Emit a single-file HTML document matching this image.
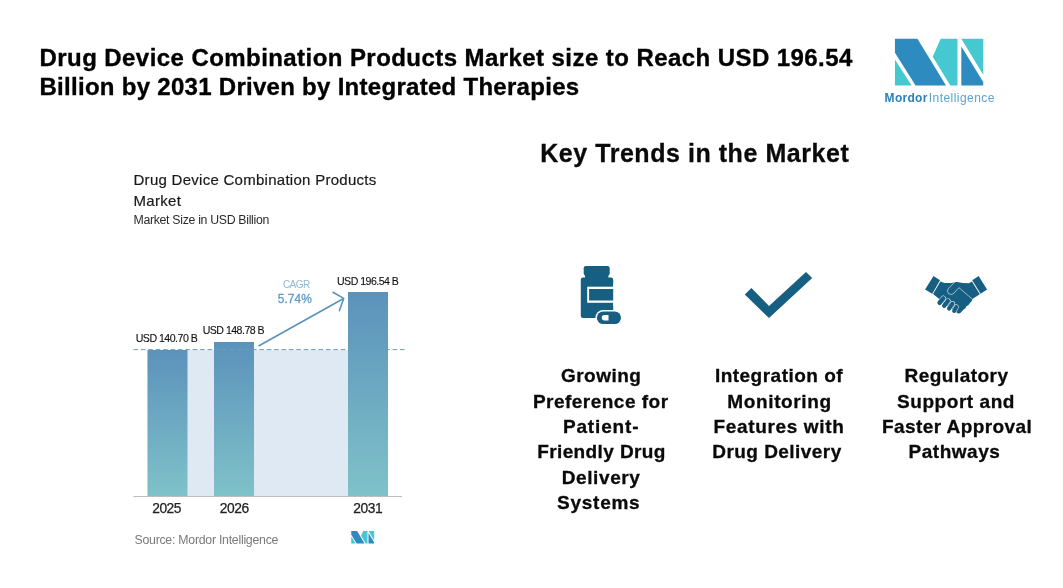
<!DOCTYPE html>
<html lang="en">
<head>
<meta charset="utf-8">
<title>Drug Device Combination Products Market</title>
<style>
html,body{margin:0;padding:0;background:#fff;}
body{width:1063px;height:588px;position:relative;overflow:hidden;font-family:"Liberation Sans",sans-serif;color:#000;}
.t{position:absolute;white-space:nowrap;line-height:1;margin:0;}
.h1{left:40px;font-size:24px;font-weight:bold;color:#000;letter-spacing:-0.2px;}
.key{left:541px;top:140px;font-size:26px;font-weight:bold;}
.ct{left:134px;font-size:15px;color:#222;}
.cs{left:134px;top:213px;font-size:12px;color:#333;}
.lab{font-size:10.5px;color:#111;}
.yr{font-size:13.5px;color:#222;}
.src{left:135px;top:533px;font-size:12px;color:#777;}
.col{position:absolute;top:362px;width:180px;text-align:center;font-size:19px;font-weight:bold;line-height:25.6px;color:#111;}
svg{position:absolute;left:0;top:0;}
</style>
</head>
<body>
<svg width="1063" height="588" viewBox="0 0 1063 588">
  <defs>
    <linearGradient id="bg" x1="0" y1="0" x2="0" y2="1">
      <stop offset="0" stop-color="#5b92bb"/>
      <stop offset="1" stop-color="#7fc2c9"/>
    </linearGradient>
  </defs>
  <!-- Mordor logo big -->
  <g transform="translate(870,25) scale(0.153)">
    <polygon points="163,90 310,90 497,395 298,395 163,182" fill="#2e8bc0"/>
    <polygon points="163,225 163,395 272,395" fill="#45c8cf"/>
    <polygon points="462,90 572,90 572,395 525,395 410,207" fill="#45c8cf"/>
    <polygon points="597,90 740,90 740,325" fill="#45c8cf"/>
    <polygon points="597,140 740,372 740,395 597,395" fill="#2e8bc0"/>
  </g>
  <!-- small logo -->
  <g transform="translate(344.8,527.2) scale(0.0397,0.041)">
    <polygon points="163,90 310,90 497,395 298,395 163,182" fill="#2e8bc0"/>
    <polygon points="163,225 163,395 272,395" fill="#45c8cf"/>
    <polygon points="462,90 572,90 572,395 525,395 410,207" fill="#45c8cf"/>
    <polygon points="597,90 740,90 740,325" fill="#45c8cf"/>
    <polygon points="597,140 740,372 740,395 597,395" fill="#2e8bc0"/>
  </g>
  <!-- chart -->
  <rect x="147.5" y="350" width="240.5" height="146.5" fill="#dfe9f3"/>
  <rect x="147.5" y="350" width="40" height="146.5" fill="url(#bg)"/>
  <rect x="214" y="342" width="40" height="154.5" fill="url(#bg)"/>
  <rect x="348" y="292" width="40" height="204.5" fill="url(#bg)"/>
  <line x1="133.5" y1="349.6" x2="404.5" y2="349.6" stroke="#6c9dbe" stroke-width="1" stroke-dasharray="4.6 2.8"/>
  <line x1="133.5" y1="496.5" x2="402" y2="496.5" stroke="#bdbdbd" stroke-width="1"/>
  <g fill="none" stroke="#5b92b8" stroke-width="1.6" stroke-linecap="round" stroke-linejoin="round">
    <line x1="259" y1="345.7" x2="343.2" y2="298.8"/>
    <polyline points="333,292.3 343.7,298.4 339.4,310.6"/>
  </g>
  <!-- icons -->
  <g fill="#175f82">
    <!-- bottle -->
    <rect x="583.7" y="266.1" width="26" height="9.5" rx="2.2"/>
    <path d="M583 277.5 h28 a2.2 2.2 0 0 1 2.200 2.200 v36 a2.200 2.200 0 0 1 -2.200 2.200 h-28 a2.200 2.200 0 0 1 -2.200 -2.200 v-36 a2.200 2.200 0 0 1 2.200 -2.200z"/>
    <rect x="585" y="275" width="23.400" height="4"/>
  </g>
  <rect x="587.2" y="286.700" width="27" height="16.100" fill="#fff"/>
  <rect x="589.1" y="289" width="25" height="11.500" fill="#175f82"/>
  <rect x="613.2" y="284" width="4" height="22" fill="#fff"/>
  <rect x="595.4" y="309.900" width="27.100" height="15.600" rx="7.800" fill="#fff"/>
  <rect x="596.9" y="311.400" width="24.100" height="12.600" rx="6.300" fill="#175f82"/>
  <path d="M604.5 315 h4 v5.400 h-4 a2.700 2.700 0 0 1 0 -5.400z" fill="#fff"/>
  <!-- check -->
  <polygon points="744.8,294.400 751.400,288 769,305.900 806,271.900 812.200,278 769,318.100" fill="#175f82"/>
  <!-- handshake -->
  <g transform="translate(920,270) scale(0.08163)">
    <g fill="#175f82">
      <polygon points="165,72 245,125 150,292 62,240"/>
      <polygon points="718,72 822,240 742,292 640,125"/>
      <path d="M250,140 L300,160 L385,160 L425,150 Q450,144 475,149 L520,160 L600,162 L636,142 L733,297 L642,356 Q640,392 612,404 Q600,432 566,446 Q560,474 530,488 L498,524 Q478,540 458,526 L300,420 L232,352 L160,294 Z"/>
    </g>
    <g fill="none" stroke-linecap="round">
      <line x1="418" y1="502" x2="446" y2="452" stroke="#fff" stroke-width="59"/>
      <line x1="418" y1="502" x2="446" y2="452" stroke="#175f82" stroke-width="49"/>
      <line x1="356" y1="472" x2="398" y2="412" stroke="#fff" stroke-width="61"/>
      <line x1="356" y1="472" x2="398" y2="412" stroke="#175f82" stroke-width="51"/>
      <line x1="296" y1="438" x2="342" y2="378" stroke="#fff" stroke-width="63"/>
      <line x1="296" y1="438" x2="342" y2="378" stroke="#175f82" stroke-width="53"/>
      <line x1="240" y1="402" x2="286" y2="348" stroke="#fff" stroke-width="65"/>
      <line x1="240" y1="402" x2="286" y2="348" stroke="#175f82" stroke-width="55"/>
      <path d="M422,152 L348,226 Q322,262 350,290 Q384,312 412,288 L476,216 L640,356" stroke="#fff" stroke-width="7" stroke-linejoin="round"/>
    </g>
  </g>
</svg>
<div class="t" style="left:884.6px;top:92.3px;font-size:12px;color:#2a82b6;letter-spacing:0.3px"><b>Mordor</b><span style="color:#5aa3cc;margin-left:1px;letter-spacing:0.45px">Intelligence</span></div>
<div class="t" style="left:39.5px;top:45.5px;font-size:24px;font-weight:bold;color:#000;letter-spacing:0.433px;-webkit-text-stroke:0.35px #000;">Drug Device Combination Products Market size to Reach USD 196.54</div>
<div class="t" style="left:39.5px;top:74.5px;font-size:24px;font-weight:bold;color:#000;letter-spacing:0.284px;-webkit-text-stroke:0.35px #000;">Billion by 2031 Driven by Integrated Therapies</div>
<div class="t" style="left:540.2px;top:141.4px;font-size:25px;font-weight:bold;color:#0a0a0a;letter-spacing:0.548px;-webkit-text-stroke:0.3px #0a0a0a;">Key Trends in the Market</div>
<div class="t" style="left:133.5px;top:172.3px;font-size:15px;font-weight:normal;color:#1a1a1a;letter-spacing:0.274px;-webkit-text-stroke:0.2px #1a1a1a;">Drug Device Combination Products</div>
<div class="t" style="left:133.5px;top:192.6px;font-size:15px;font-weight:normal;color:#1a1a1a;letter-spacing:0.320px;-webkit-text-stroke:0.2px #1a1a1a;">Market</div>
<div class="t" style="left:133.5px;top:214.0px;font-size:12.3px;font-weight:normal;color:#2a2a2a;letter-spacing:-0.308px;">Market Size in USD Billion</div>
<div class="t" style="left:135.7px;top:333.0px;font-size:10.6px;font-weight:normal;color:#111;letter-spacing:-0.509px;-webkit-text-stroke:0.12px #111;">USD 140.70 B</div>
<div class="t" style="left:202.7px;top:325.0px;font-size:10.6px;font-weight:normal;color:#111;letter-spacing:-0.527px;-webkit-text-stroke:0.12px #111;">USD 148.78 B</div>
<div class="t" style="left:337.0px;top:275.5px;font-size:10.6px;font-weight:normal;color:#111;letter-spacing:-0.527px;-webkit-text-stroke:0.12px #111;">USD 196.54 B</div>
<div class="t" style="left:282.9px;top:279.5px;font-size:10px;font-weight:normal;color:#8fb9d2;letter-spacing:-0.500px;">CAGR</div>
<div class="t" style="left:277.8px;top:293.5px;font-size:11.9px;font-weight:normal;color:#5f9cc2;letter-spacing:0.050px;-webkit-text-stroke:0.3px #5f9cc2;">5.74%</div>
<div class="t" style="left:152.3px;top:501.7px;font-size:13.8px;font-weight:normal;color:#222;letter-spacing:-0.533px;-webkit-text-stroke:0.25px #222;">2025</div>
<div class="t" style="left:219.8px;top:501.7px;font-size:13.8px;font-weight:normal;color:#222;letter-spacing:-0.467px;-webkit-text-stroke:0.25px #222;">2026</div>
<div class="t" style="left:353.3px;top:501.7px;font-size:13.8px;font-weight:normal;color:#222;letter-spacing:-0.433px;-webkit-text-stroke:0.25px #222;">2031</div>
<div class="t" style="left:134.5px;top:533.5px;font-size:12.3px;font-weight:normal;color:#7a7a7a;letter-spacing:-0.250px;">Source: Mordor Intelligence</div>
<div class="t" style="left:560.9px;top:366.1px;font-size:19px;font-weight:bold;color:#0a0a0a;letter-spacing:0.500px;-webkit-text-stroke:0.3px #0a0a0a;">Growing</div>
<div class="t" style="left:532.9px;top:391.5px;font-size:19px;font-weight:bold;color:#0a0a0a;letter-spacing:0.485px;-webkit-text-stroke:0.3px #0a0a0a;">Preference for</div>
<div class="t" style="left:562.9px;top:416.8px;font-size:19px;font-weight:bold;color:#0a0a0a;letter-spacing:0.857px;-webkit-text-stroke:0.3px #0a0a0a;">Patient-</div>
<div class="t" style="left:537.2px;top:442.2px;font-size:19px;font-weight:bold;color:#0a0a0a;letter-spacing:0.392px;-webkit-text-stroke:0.3px #0a0a0a;">Friendly Drug</div>
<div class="t" style="left:561.8px;top:467.5px;font-size:19px;font-weight:bold;color:#0a0a0a;letter-spacing:0.586px;-webkit-text-stroke:0.3px #0a0a0a;">Delivery</div>
<div class="t" style="left:557.1px;top:492.9px;font-size:19px;font-weight:bold;color:#0a0a0a;letter-spacing:0.733px;-webkit-text-stroke:0.3px #0a0a0a;">Systems</div>
<div class="t" style="left:714.9px;top:366.1px;font-size:19px;font-weight:bold;color:#0a0a0a;letter-spacing:0.485px;-webkit-text-stroke:0.3px #0a0a0a;">Integration of</div>
<div class="t" style="left:727.3px;top:391.5px;font-size:19px;font-weight:bold;color:#0a0a0a;letter-spacing:0.633px;-webkit-text-stroke:0.3px #0a0a0a;">Monitoring</div>
<div class="t" style="left:713.4px;top:416.8px;font-size:19px;font-weight:bold;color:#0a0a0a;letter-spacing:0.667px;-webkit-text-stroke:0.3px #0a0a0a;">Features with</div>
<div class="t" style="left:712.3px;top:442.2px;font-size:19px;font-weight:bold;color:#0a0a0a;letter-spacing:0.450px;-webkit-text-stroke:0.3px #0a0a0a;">Drug Delivery</div>
<div class="t" style="left:904.5px;top:366.1px;font-size:19px;font-weight:bold;color:#0a0a0a;letter-spacing:0.478px;-webkit-text-stroke:0.3px #0a0a0a;">Regulatory</div>
<div class="t" style="left:897.0px;top:391.5px;font-size:19px;font-weight:bold;color:#0a0a0a;letter-spacing:0.560px;-webkit-text-stroke:0.3px #0a0a0a;">Support and</div>
<div class="t" style="left:882.0px;top:416.8px;font-size:19px;font-weight:bold;color:#0a0a0a;letter-spacing:0.421px;-webkit-text-stroke:0.3px #0a0a0a;">Faster Approval</div>
<div class="t" style="left:908.6px;top:442.2px;font-size:19px;font-weight:bold;color:#0a0a0a;letter-spacing:0.514px;-webkit-text-stroke:0.3px #0a0a0a;">Pathways</div>
</body>
</html>
